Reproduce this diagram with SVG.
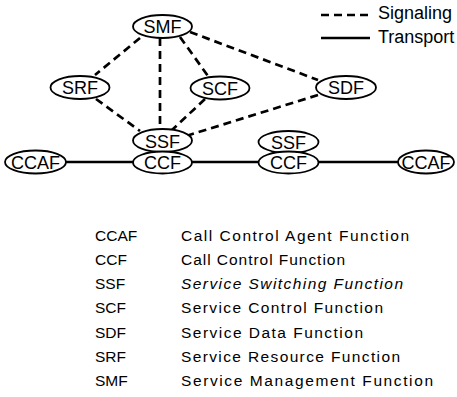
<svg xmlns="http://www.w3.org/2000/svg" width="457" height="397" viewBox="0 0 457 397">
  <style>
    .node ellipse { fill: #fff; stroke: #000; stroke-width: 1.8; }
    .node text { font-family: "Liberation Sans", Arial, sans-serif; font-size: 18px; text-anchor: middle; fill: #000; }
    .sig { stroke: #000; stroke-width: 2.7; stroke-dasharray: 8 5; fill: none; }
    .tr { stroke: #000; stroke-width: 2.5; fill: none; }
    .legend text { font-family: "Liberation Sans", Arial, sans-serif; font-size: 18px; fill: #000; }
    .key text { font-family: "Liberation Sans", Arial, sans-serif; font-size: 15.5px; fill: #000; }
  </style>
  <rect width="457" height="397" fill="#fff"/>

  <!-- connectors: signaling (dashed) and transport (solid) -->
  <g id="connectors">
    <line class="sig" x1="140" y1="38" x2="95" y2="75"/>
    <line class="sig" x1="160" y1="38" x2="160" y2="129"/>
    <line class="sig" x1="180" y1="37" x2="208" y2="76"/>
    <line class="sig" x1="190" y1="32" x2="318" y2="80"/>
    <line class="sig" x1="96" y1="99" x2="140" y2="131"/>
    <line class="sig" x1="205" y1="99" x2="172" y2="130"/>
    <line class="sig" x1="318" y1="95" x2="186" y2="136"/>
    <line class="tr" x1="66" y1="162" x2="133" y2="162"/>
    <line class="tr" x1="192" y1="162" x2="259" y2="162"/>
    <line class="tr" x1="318" y1="162" x2="398" y2="162"/>
  </g>

  <g id="SMF" class="node">
    <ellipse cx="162.5" cy="26.5" rx="29.5" ry="11.5"/>
    <text x="162.5" y="33">SMF</text>
  </g>
  <g id="SRF" class="node">
    <ellipse cx="80" cy="87.5" rx="29.5" ry="11.5"/>
    <text x="80" y="94">SRF</text>
  </g>
  <g id="SCF" class="node">
    <ellipse cx="220" cy="88" rx="29.5" ry="11.5"/>
    <text x="220" y="94.5">SCF</text>
  </g>
  <g id="SDF" class="node">
    <ellipse cx="346" cy="87.5" rx="30" ry="11.5"/>
    <text x="346" y="94">SDF</text>
  </g>
  <g id="SSF1" class="node">
    <ellipse cx="162.5" cy="140.5" rx="29.5" ry="11.5"/>
    <text x="162.5" y="147.5">SSF</text>
  </g>
  <g id="CCF1" class="node">
    <ellipse cx="162.5" cy="162.5" rx="29.5" ry="11"/>
    <text x="162.5" y="169">CCF</text>
  </g>
  <g id="SSF2" class="node">
    <ellipse cx="288.5" cy="142" rx="30" ry="11"/>
    <text x="288.5" y="148.5">SSF</text>
  </g>
  <g id="CCF2" class="node">
    <ellipse cx="288.5" cy="162.5" rx="30" ry="11"/>
    <text x="288.5" y="169">CCF</text>
  </g>
  <g id="CCAF1" class="node">
    <ellipse cx="35.5" cy="162" rx="30.5" ry="11.5"/>
    <text x="35.5" y="168.5">CCAF</text>
  </g>
  <g id="CCAF2" class="node">
    <ellipse cx="426" cy="162" rx="28" ry="11.5"/>
    <text x="426" y="168.5">CCAF</text>
  </g>

  <!-- line-style legend -->
  <g id="legend" class="legend">
    <line class="sig" x1="321" y1="15" x2="370" y2="15" stroke-dasharray="9 4.5"/>
    <text x="378" y="19">Signaling</text>
    <line class="tr" x1="321" y1="38" x2="370" y2="38"/>
    <text x="378" y="43">Transport</text>
  </g>

  <!-- abbreviation key -->
  <g id="key" class="key">
    <text x="95" y="240.5">CCAF</text>
    <text x="181" y="240.5" textLength="228" lengthAdjust="spacing">Call Control Agent Function</text>
    <text x="95" y="264.8">CCF</text>
    <text x="181" y="264.8" textLength="164" lengthAdjust="spacing">Call Control Function</text>
    <text x="95" y="289.1">SSF</text>
    <text x="181" y="289.1" textLength="222" lengthAdjust="spacing" font-style="italic">Service Switching Function</text>
    <text x="95" y="313.4">SCF</text>
    <text x="181" y="313.4" textLength="202" lengthAdjust="spacing">Service Control Function</text>
    <text x="95" y="337.7">SDF</text>
    <text x="181" y="337.7" textLength="182" lengthAdjust="spacing">Service Data Function</text>
    <text x="95" y="362">SRF</text>
    <text x="181" y="362" textLength="219" lengthAdjust="spacing">Service Resource Function</text>
    <text x="95" y="386.3">SMF</text>
    <text x="181" y="386.3" textLength="252" lengthAdjust="spacing">Service Management Function</text>
  </g>
</svg>
